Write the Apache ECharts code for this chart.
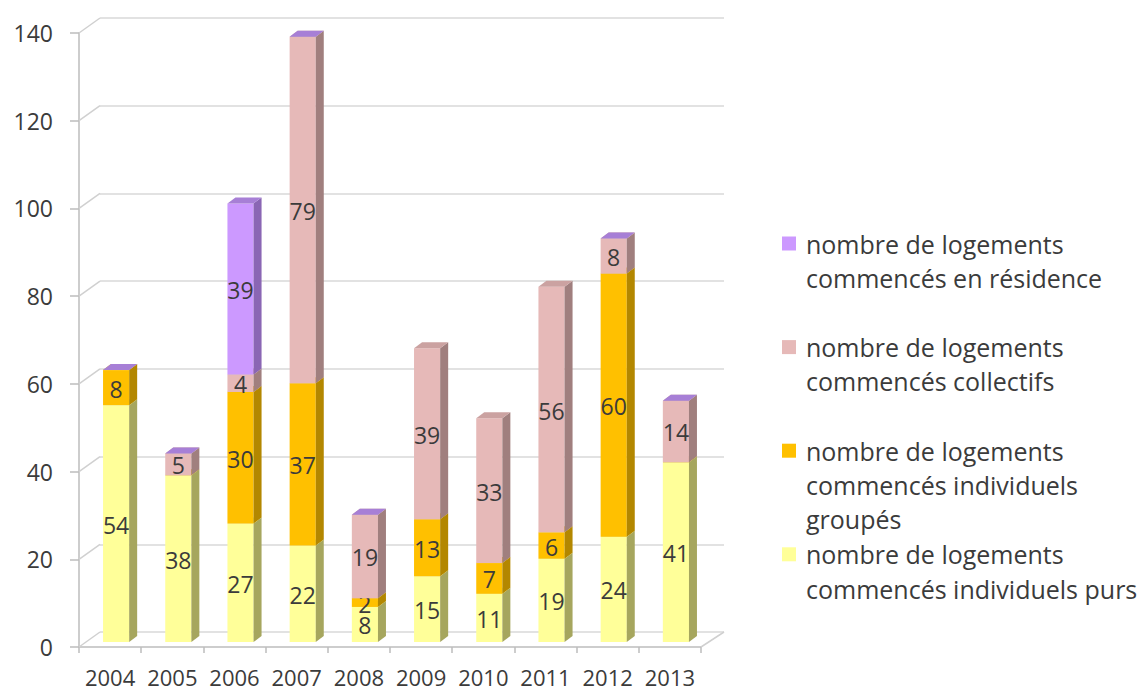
<!DOCTYPE html>
<html>
<head>
<meta charset="utf-8">
<script src="https://cdn.jsdelivr.net/npm/echarts@6/dist/echarts.min.js"></script>
<style>
  html, body { margin: 0; padding: 0; background: #fff; }
  #chart { width: 1145px; height: 692px; }
</style>
</head>
<body>
<div id="chart"></div>
<script>
const years = ['2004', '2005', '2006', '2007', '2008', '2009', '2010', '2011', '2012', '2013']
const individuelsPurs = [54, 38, 27, 22, 8, 15, 11, 19, 24, 41]
const individuelsGroupes = [8, 0, 30, 37, 2, 13, 7, 6, 60, 0]
const collectifs = [0, 5, 4, 79, 19, 39, 33, 56, 8, 14]
const residence = [0, 0, 39, 0, 0, null, null, null, 0, 0]
const yTicks = [0, 20, 40, 60, 80, 100, 120, 140]

const FONT = '"Open Sans", "Liberation Sans", sans-serif'
const TEXT = '#3b3b3b'
// depth of the fake 3d box
const BAR_DX = 8
const BAR_DY = 6
const BAR_SHIFT_X = 6
const BAR_SHIFT_Y = -5
const WALL_DX = 21
const WALL_DY = -15

const seriesDefs = [
  { name: 'nombre de logements\ncommencés individuels purs', values: individuelsPurs, face: '#ffff99', side: '#a6a65e', top: '#e6e68a' },
  { name: 'nombre de logements\ncommencés individuels\ngroupés', values: individuelsGroupes, face: '#ffc000', side: '#b38700', top: '#e0a900' },
  { name: 'nombre de logements\ncommencés collectifs', values: collectifs, face: '#e6b9b8', side: '#a07f7e', top: '#cba2a1' },
  { name: 'nombre de logements\ncommencés en résidence', values: residence, face: '#cc99ff', side: '#8a66b4', top: '#a77fd6' }
]

// stack bases
let running = years.map(() => 0)
seriesDefs.forEach((s) => {
  s.bases = running.slice()
  running = running.map((b, i) => b + (s.values[i] ?? 0))
})

const renderBar = (s) => (params, api) => {
  const i = params.dataIndex
  const v = s.values[i]
  if (v == null) return null
  const base = s.bases[i]
  const p0 = api.coord([i, base])
  const p1 = api.coord([i, base + v])
  const band = api.size([1, 0])[0]
  const w = band * 0.42
  const xL = p0[0] + BAR_SHIFT_X - w / 2
  const xR = xL + w
  const yB = p0[1] + BAR_SHIFT_Y
  const yT = p1[1] + BAR_SHIFT_Y
  const children = [
    { type: 'rect', shape: { x: xL, y: yT, width: w, height: yB - yT }, style: { fill: s.face } },
    { type: 'polygon', shape: { points: [[xR, yB], [xR + BAR_DX, yB - BAR_DY], [xR + BAR_DX, yT - BAR_DY], [xR, yT]] }, style: { fill: s.side } },
    { type: 'polygon', shape: { points: [[xL, yT], [xL + BAR_DX, yT - BAR_DY], [xR + BAR_DX, yT - BAR_DY], [xR, yT]] }, style: { fill: s.top } }
  ]
  if (v > 0) {
    children.push({
      type: 'text',
      style: {
        text: String(v), x: (xL + xR) / 2, y: (yT + yB) / 2 + 1,
        align: 'center', verticalAlign: 'middle', lineHeight: 17,
        fill: TEXT, font: `23px ${FONT}`
      }
    })
  }
  return { type: 'group', children }
}

const renderWall = (params, api) => {
  const v = yTicks[params.dataIndex]
  const band = api.size([1, 0])[0]
  const p = api.coord([0, v])
  const xLeft = p[0] - band / 2
  const lineStyle = { stroke: '#d0d0d0', lineWidth: 1.5 }
  const children = [
    { type: 'line', shape: { x1: xLeft, y1: p[1], x2: xLeft + WALL_DX, y2: p[1] + WALL_DY }, style: lineStyle }
  ]
  if (v === 0) {
    const xRight = api.coord([years.length - 1, 0])[0] + band / 2
    children.push({ type: 'line', shape: { x1: xRight, y1: p[1], x2: xRight + WALL_DX + 2, y2: p[1] + WALL_DY }, style: lineStyle })
  }
  return { type: 'group', children }
}

const legendKeys = ['a', 'b', 'c', 'd']
const legendOrder = [3, 2, 1, 0]
const LH = 34.3
const rich = {
  t: { fontFamily: FONT, fontSize: 25, color: TEXT, lineHeight: LH },
  gap: { width: 10, lineHeight: LH },
  ind: { width: 24, lineHeight: LH }
}
legendOrder.forEach((si, k) => {
  rich['sq' + legendKeys[k]] = { width: 14, height: 14, backgroundColor: seriesDefs[si].face, lineHeight: LH }
})

const chart = echarts.init(document.getElementById('chart'), null, { renderer: 'svg' })
chart.setOption({
  backgroundColor: '#fff',
  animation: false,
  grid: [
    { left: 79, right: 444, top: 33, bottom: 45 },
    { left: 100, right: 421, top: 18, bottom: 60 }
  ],
  xAxis: [
    {
      type: 'category', gridIndex: 0, data: years, boundaryGap: true,
      axisLine: { lineStyle: { color: '#bdbdbd', width: 1.5 } },
      axisTick: { show: true, length: 6, lineStyle: { color: '#bdbdbd', width: 1.5 } },
      axisLabel: { color: TEXT, fontFamily: FONT, fontSize: 22, lineHeight: 20, margin: 20, interval: 0, hideOverlap: false }
    },
    { type: 'category', gridIndex: 1, data: years, show: false }
  ],
  yAxis: [
    {
      type: 'value', gridIndex: 0, min: 0, max: 140, interval: 20,
      axisLine: { show: true, lineStyle: { color: '#bdbdbd', width: 1.5 } },
      axisTick: { show: true, length: 9, lineStyle: { color: '#bdbdbd', width: 1.5 } },
      axisLabel: { color: TEXT, fontFamily: FONT, fontSize: 23, margin: 26 },
      splitLine: { show: false }
    },
    {
      type: 'value', gridIndex: 1, min: 0, max: 140, interval: 20,
      axisLine: { show: false }, axisTick: { show: false }, axisLabel: { show: false },
      splitLine: { show: true, lineStyle: { color: '#d9d9d9', width: 1.5 } }
    }
  ],
  legend: {
    orient: 'vertical',
    left: 772,
    top: 226,
    icon: 'none',
    itemWidth: 0,
    itemHeight: 0,
    itemGap: 10,
    selectedMode: false,
    data: legendOrder.map((si) => seriesDefs[si].name),
    formatter: (name) => {
      const k = legendKeys[legendOrder.findIndex((si) => seriesDefs[si].name === name)]
      const lines = name.split('\n')
      while (lines.length < 3) lines.push('')
      return lines.map((l, j) => (j === 0 ? `{sq${k}|}{gap|}` : '{ind|}') + (l ? `{t|${l}}` : '{t| }')).join('\n')
    },
    textStyle: { rich }
  },
  series: [
    {
      type: 'custom', name: 'wall', xAxisIndex: 0, yAxisIndex: 0,
      data: yTicks.map((v) => [0, v]),
      renderItem: renderWall, silent: true, z: 1
    },
    ...seriesDefs.map((s) => ({
      type: 'custom', name: s.name, xAxisIndex: 0, yAxisIndex: 0,
      itemStyle: { color: s.face },
      data: s.values.map((v, i) => [i, v ?? 0]),
      renderItem: renderBar(s), z: 3
    }))
  ]
})
</script>
</body>
</html>
